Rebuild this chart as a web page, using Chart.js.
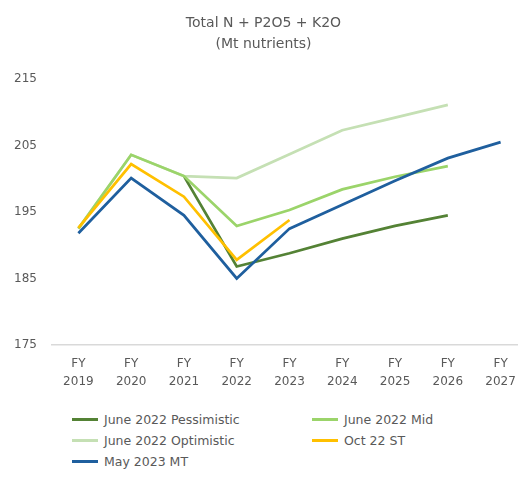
<!DOCTYPE html>
<html>
<head>
<meta charset="utf-8">
<script src="https://cdn.jsdelivr.net/npm/chart.js@4"></script>
<style>
    html, body { margin: 0; padding: 0; background: #fff; overflow: hidden; }
    #wrap { position: relative; width: 527px; height: 483px; }
    #legend {
        position: absolute; left: 72px; top: 409px;
        display: grid; grid-template-columns: 240px 200px;
        font: 12.5px "DejaVu Sans", sans-serif; color: #595959;
    }
    .item { display: flex; align-items: center; height: 21px; }
    .swatch { width: 26px; height: 3px; margin-right: 6px; }
</style>
</head>
<body>
<div id="wrap">
    <canvas id="chart" width="527" height="405"></canvas>
    <div id="legend"></div>
</div>
<script>
const years = ["2019", "2020", "2021", "2022", "2023", "2024", "2025", "2026", "2027"];
const yTicks = [175, 185, 195, 205, 215];

const pessimistic = [null, null, 200.4, 186.8, 188.8, 191.0, 192.9, 194.5, null];
const mid = [192.5, 203.6, 200.4, 192.9, 195.3, 198.4, 200.3, 201.9, null];
const optimistic = [192.5, 203.6, 200.4, 200.1, 203.7, 207.3, 209.2, 211.1, null];
const oct22 = [192.6, 202.2, 197.3, 187.8, 193.8, null, null, null, null];
const may23 = [191.8, 200.1, 194.5, 185.0, 192.5, 196.1, 199.7, 203.1, 205.5];

const grey = "#595959";

function series(label, data, color, order) {
    return {
        label: label,
        data: data,
        borderColor: color,
        backgroundColor: color,
        borderWidth: 2.75,
        pointRadius: 0,
        tension: 0,
        order: order,
    };
}

const chart = new Chart(document.getElementById("chart"), {
    type: "line",
    data: {
        labels: years.map((y) => ["FY", y]),
        datasets: [
            series("June 2022 Pessimistic", pessimistic, "#548235", 4),
            series("June 2022 Mid", mid, "#9BD46A", 2),
            series("June 2022 Optimistic", optimistic, "#C5E0B4", 3),
            series("Oct 22 ST", oct22, "#FFC000", 1),
            series("May 2023 MT", may23, "#1F5F9E", 0),
        ],
    },
    options: {
        responsive: false,
        animation: false,
        layout: { padding: { top: 0, bottom: 4 } },
        plugins: {
            legend: { display: false },
            tooltip: { enabled: false },
            title: {
                display: true,
                text: ["Total N + P2O5 + K2O", "(Mt nutrients)"],
                color: grey,
                font: { family: "DejaVu Sans", size: 14, weight: "normal", lineHeight: 1.5 },
                padding: { top: 13, bottom: 24 },
            },
        },
        scales: {
            x: {
                offset: true,
                grid: { display: false, drawTicks: false },
                border: { color: "#d9d9d9", width: 1.5 },
                ticks: {
                    color: grey,
                    autoSkip: false,
                    maxRotation: 0,
                    padding: 10,
                    font: { family: "DejaVu Sans", size: 12, lineHeight: 1.5 },
                },
            },
            y: {
                min: 175,
                max: 215,
                afterFit: (scale) => { scale.width = 52; },
                afterBuildTicks: (scale) => { scale.ticks = yTicks.map((v) => ({ value: v })); },
                grid: { display: false, drawTicks: false },
                border: { display: false },
                ticks: {
                    color: grey,
                    padding: 15,
                    font: { family: "DejaVu Sans", size: 12 },
                },
            },
        },
    },
});

// legend in two columns, like the original
const legend = document.getElementById("legend");
chart.data.datasets.forEach((ds) => {
    const item = document.createElement("div");
    item.className = "item";
    item.innerHTML = '<span class="swatch" style="background:' + ds.borderColor + '"></span>' + ds.label;
    legend.appendChild(item);
});
</script>
</body>
</html>
